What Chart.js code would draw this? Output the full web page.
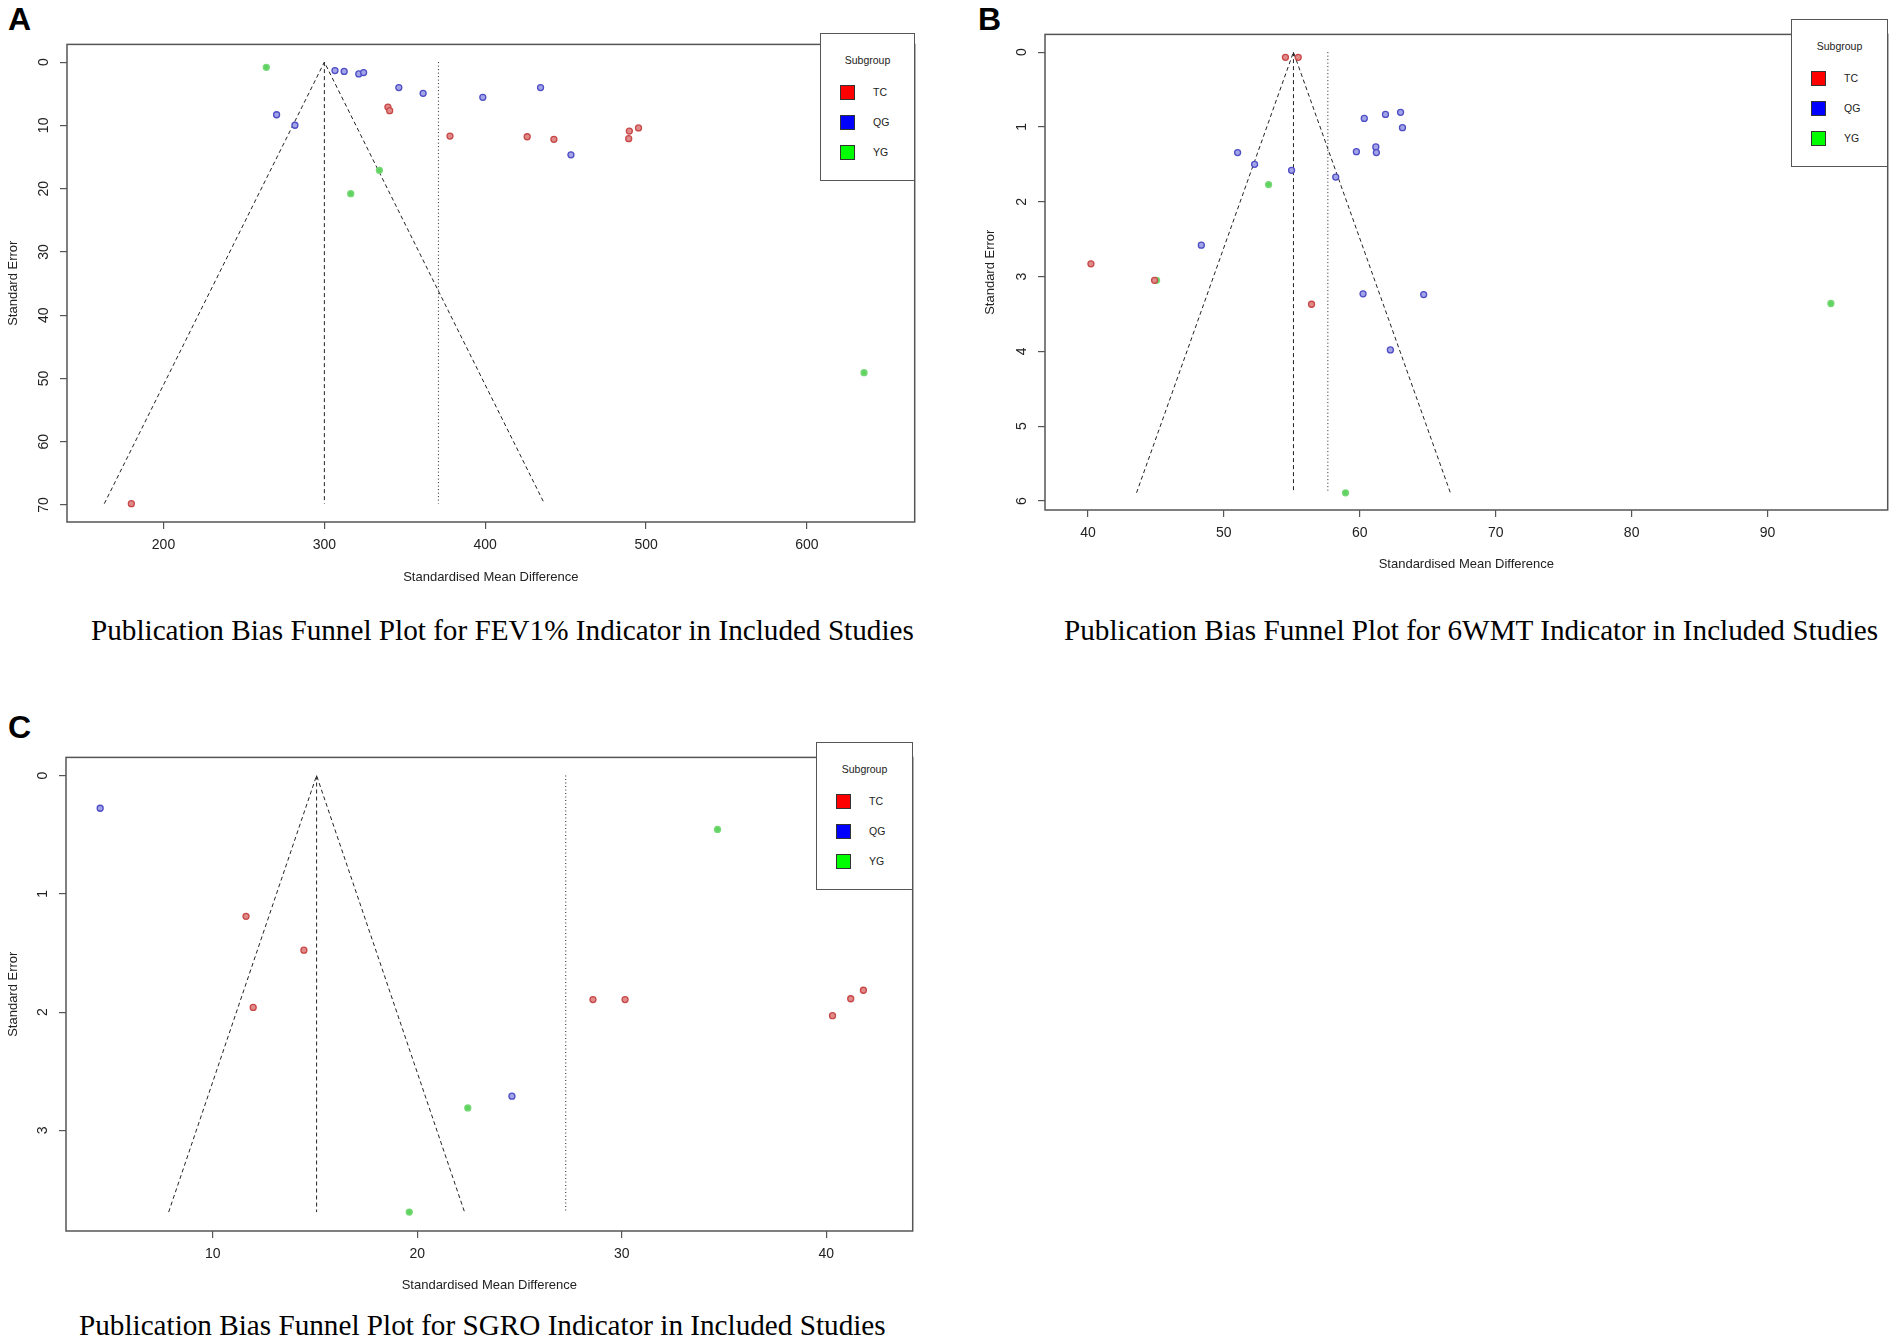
<!DOCTYPE html>
<html>
<head>
<meta charset="utf-8">
<title>Publication bias funnel plots</title>
<script src="https://cdn.jsdelivr.net/npm/chart.js@4.4.1/dist/chart.umd.min.js"></script>
<style>
    body { margin: 0; background: #fff; width: 1902px; height: 1343px; position: relative; overflow: hidden; font-family: "Liberation Sans", Arial, sans-serif; }
    .panel { position: absolute; }
    .tag { position: absolute; font: bold 32px "Liberation Sans", Arial, sans-serif; line-height: 32px; color: #000; }
    .caption { position: absolute; font: 29.2px "Liberation Serif", "Times New Roman", serif; line-height: 29px; color: #000; white-space: nowrap; }
    .legend { position: absolute; box-sizing: border-box; border: 1.5px solid #555; background: #fff; color: #222; font-size: 10.5px; }
    .legend .ttl { position: absolute; left: 0; right: 0; text-align: center; line-height: 12px; }
    .legend .sw { position: absolute; left: 19px; width: 15px; height: 15px; box-sizing: border-box; border: 1px solid #333; }
    .legend .lb { position: absolute; left: 52px; line-height: 12px; }
</style>
</head>
<body>

<div class="tag" style="left:8px;top:3px">A</div>
<div class="tag" style="left:978px;top:3px">B</div>
<div class="tag" style="left:8px;top:711px">C</div>

<div class="panel" id="wrapA"><canvas id="chartA"></canvas></div>
<div class="panel" id="wrapB"><canvas id="chartB"></canvas></div>
<div class="panel" id="wrapC"><canvas id="chartC"></canvas></div>

<div class="caption" style="left:91px;top:616px">Publication Bias Funnel Plot for FEV1% Indicator in Included Studies</div>
<div class="caption" style="left:1064px;top:616px">Publication Bias Funnel Plot for 6WMT Indicator in Included Studies</div>
<div class="caption" style="left:79px;top:1311px">Publication Bias Funnel Plot for SGRO Indicator in Included Studies</div>

<script>
// Subgroups
const subgroups = ['TC', 'QG', 'YG'];

// A - FEV1%  (x = standardised mean difference, y = standard error)
const fevTicksX = [200, 300, 400, 500, 600];
const fevTicksY = [0, 10, 20, 30, 40, 50, 60, 70];
const fevTcSmd = [339.5, 340.6, 378.1, 426.1, 442.7, 489.2, 489.6, 495.3, 180.0];
const fevTcSe  = [7.1, 7.68, 11.7, 11.8, 12.2, 12.1, 10.9, 10.4, 69.8];
const fevQgSmd = [306.6, 312.3, 321.4, 324.4, 346.3, 361.4, 398.5, 434.4, 270.3, 281.7, 453.3];
const fevQgSe  = [1.34, 1.47, 1.86, 1.66, 4.03, 4.93, 5.57, 4.03, 8.32, 9.98, 14.65];
const fevYgSmd = [263.9, 334.2, 316.4, 635.5];
const fevYgSe  = [0.83, 17.1, 20.8, 49.1];
const fevFixed = 300;
const fevRandom = 370.9;
const fevSeMax = 69.8;

// B - 6WMT
const wmtTicksX = [40, 50, 60, 70, 80, 90];
const wmtTicksY = [0, 1, 2, 3, 4, 5, 6];
const wmtTcSmd = [54.53, 55.47, 40.22, 56.45, 44.9];
const wmtTcSe  = [0.07, 0.07, 2.83, 3.37, 3.05];
const wmtQgSmd = [60.33, 61.89, 63.0, 63.14, 61.18, 61.22, 59.75, 51.01, 52.26, 54.98, 58.23, 48.34, 60.24, 64.7, 62.25];
const wmtQgSe  = [0.886, 0.832, 0.805, 1.01, 1.267, 1.342, 1.331, 1.342, 1.5, 1.58, 1.67, 2.58, 3.23, 3.24, 3.98];
const wmtYgSmd = [45.05, 53.29, 58.95, 94.66];
const wmtYgSe  = [3.05, 1.77, 5.89, 3.36];
const wmtFixed = 55.12;
const wmtRandom = 57.65;
const wmtSeMax = 5.89;

// C - SGRO
const sgrTicksX = [10, 20, 30, 40];
const sgrTicksY = [0, 1, 2, 3];
const sgrTcSmd = [11.63, 14.46, 11.98, 28.59, 30.16, 41.81, 41.19, 40.3];
const sgrTcSe  = [1.19, 1.476, 1.96, 1.894, 1.894, 1.815, 1.887, 2.03];
const sgrQgSmd = [4.5, 24.63];
const sgrQgSe  = [0.277, 2.71];
const sgrYgSmd = [34.68, 22.47, 19.61];
const sgrYgSe  = [0.456, 2.81, 3.69];
const sgrFixed = 15.08;
const sgrRandom = 27.26;
const sgrSeMax = 3.69;

// styles
const legendColors = ['#ff0000', '#0000ff', '#00ff00'];
const pointFill = ['#e08a8a', '#a3a3e8', '#5fd35f'];
const pointEdge = ['#c84848', '#4d4dc6', '#78d878'];
const FONT = '"Liberation Sans", Arial, sans-serif';
Chart.defaults.font.family = FONT;

const framePlugin = {
    id: 'frame',
    beforeDatasetsDraw(chart) {
        const { ctx, chartArea: a } = chart;
        ctx.save();
        ctx.strokeStyle = '#555';
        ctx.lineWidth = 1.5;
        ctx.strokeRect(a.left, a.top, a.right - a.left, a.bottom - a.top);
        ctx.restore();
    }
};

function pairs(xs, ys) {
    return xs.map((x, i) => ({ x: x, y: ys[i] }));
}

function lineSet(data, dash) {
    return {
        type: 'scatter', data: data, showLine: true, borderColor: '#222', borderWidth: 1,
        borderDash: dash, pointRadius: 0, fill: false, tension: 0
    };
}

function makePanel(p) {
    // container so that the plot box lands where the reference has it
    const wrap = document.getElementById(p.wrap);
    const left = p.yTitleX - 14, top = p.box[1] - 5;
    const right = p.box[2] + 5, bottom = p.xTitleY + 14;
    wrap.style.left = left + 'px';
    wrap.style.top = top + 'px';
    wrap.style.width = (right - left) + 'px';
    wrap.style.height = (bottom - top) + 'px';
    const yAxisW = p.box[0] - left;
    const xAxisH = bottom - p.box[3];

    const datasets = p.groups.map((g, i) => ({
        label: subgroups[i],
        data: pairs(g[0], g[1]),
        backgroundColor: pointFill[i],
        borderColor: pointEdge[i],
        borderWidth: 1.3,
        pointRadius: 3
    }));
    const c = p.fixed, m = p.seMax;
    datasets.push(lineSet([{ x: c - 1.96 * m, y: m }, { x: c, y: 0 }, { x: c + 1.96 * m, y: m }], [4, 3]));
    datasets.push(lineSet([{ x: c, y: 0 }, { x: c, y: m }], [4, 3]));
    datasets.push(lineSet([{ x: p.random, y: 0 }, { x: p.random, y: m }], [1, 2.5]));

    new Chart(document.getElementById(p.canvas), {
        type: 'scatter',
        data: { datasets: datasets },
        options: {
            responsive: true,
            maintainAspectRatio: false,
            animation: false,
            events: [],
            layout: { padding: { top: 5, right: 5, left: 0, bottom: 0 } },
            plugins: { legend: { display: false }, tooltip: { enabled: false } },
            scales: {
                x: {
                    type: 'linear', min: p.xRange[0], max: p.xRange[1],
                    afterBuildTicks: s => { s.ticks = p.ticksX.map(v => ({ value: v })); },
                    afterFit: s => { s.height = xAxisH; },
                    border: { display: false },
                    grid: { display: true, drawOnChartArea: false, drawTicks: true, tickLength: 7, color: '#555', lineWidth: 1.2 },
                    ticks: { autoSkip: false, maxRotation: 0, padding: 8, color: '#222', font: { size: 14 }, callback: v => String(v) },
                    title: { display: true, text: 'Standardised Mean Difference', color: '#222', font: { size: 13 }, padding: { top: 0, bottom: 6 } }
                },
                y: {
                    type: 'linear', reverse: true, min: p.yRange[0], max: p.yRange[1],
                    afterBuildTicks: s => { s.ticks = p.ticksY.map(v => ({ value: v })); },
                    afterFit: s => { s.width = yAxisW; },
                    border: { display: false },
                    grid: { display: true, drawOnChartArea: false, drawTicks: true, tickLength: 7, color: '#555', lineWidth: 1.2 },
                    ticks: { autoSkip: false, minRotation: 90, maxRotation: 90, crossAlign: 'center', padding: p.yPad, color: '#222', font: { size: 14 }, callback: v => String(v) },
                    title: { display: true, text: 'Standard Error', color: '#222', font: { size: 13 }, padding: { top: 6, bottom: 0 } }
                }
            }
        },
        plugins: [framePlugin]
    });

    // legend box in the top-right corner of the plot
    const lg = document.createElement('div');
    lg.className = 'legend';
    lg.style.left = (p.box[2] - p.legendW) + 'px';
    lg.style.top = p.box[1] + 'px';
    lg.style.width = p.legendW + 'px';
    lg.style.height = '148px';
    let html = '<div class="ttl" style="top:20px">Subgroup</div>';
    subgroups.forEach((name, i) => {
        const cy = 58 + i * 30;
        html += '<div class="sw" style="top:' + (cy - 7.5) + 'px;background:' + legendColors[i] + '"></div>';
        html += '<div class="lb" style="top:' + (cy - 6) + 'px">' + name + '</div>';
    });
    lg.innerHTML = html;
    document.body.appendChild(lg);
}

makePanel({
    wrap: 'wrapA', canvas: 'chartA',
    box: [67, 33, 915, 522], yTitleX: 14, xTitleY: 577,
    xRange: [140, 667], yRange: [-2.8, 72.7], ticksX: fevTicksX, ticksY: fevTicksY, yPad: 8,
    groups: [[fevTcSmd, fevTcSe], [fevQgSmd, fevQgSe], [fevYgSmd, fevYgSe]],
    fixed: fevFixed, random: fevRandom, seMax: fevSeMax, legendW: 95
});

makePanel({
    wrap: 'wrapB', canvas: 'chartB',
    box: [1045, 19, 1888, 510], yTitleX: 991, xTitleY: 564,
    xRange: [36.84, 98.84], yRange: [-0.237, 6.12], ticksX: wmtTicksX, ticksY: wmtTicksY, yPad: 12,
    groups: [[wmtTcSmd, wmtTcSe], [wmtQgSmd, wmtQgSe], [wmtYgSmd, wmtYgSe]],
    fixed: wmtFixed, random: wmtRandom, seMax: wmtSeMax, legendW: 97
});

makePanel({
    wrap: 'wrapC', canvas: 'chartC',
    box: [66, 742, 913, 1231], yTitleX: 14, xTitleY: 1285,
    xRange: [2.83, 44.22], yRange: [-0.153, 3.85], ticksX: sgrTicksX, ticksY: sgrTicksY, yPad: 12,
    groups: [[sgrTcSmd, sgrTcSe], [sgrQgSmd, sgrQgSe], [sgrYgSmd, sgrYgSe]],
    fixed: sgrFixed, random: sgrRandom, seMax: sgrSeMax, legendW: 97
});
</script>
</body>
</html>
